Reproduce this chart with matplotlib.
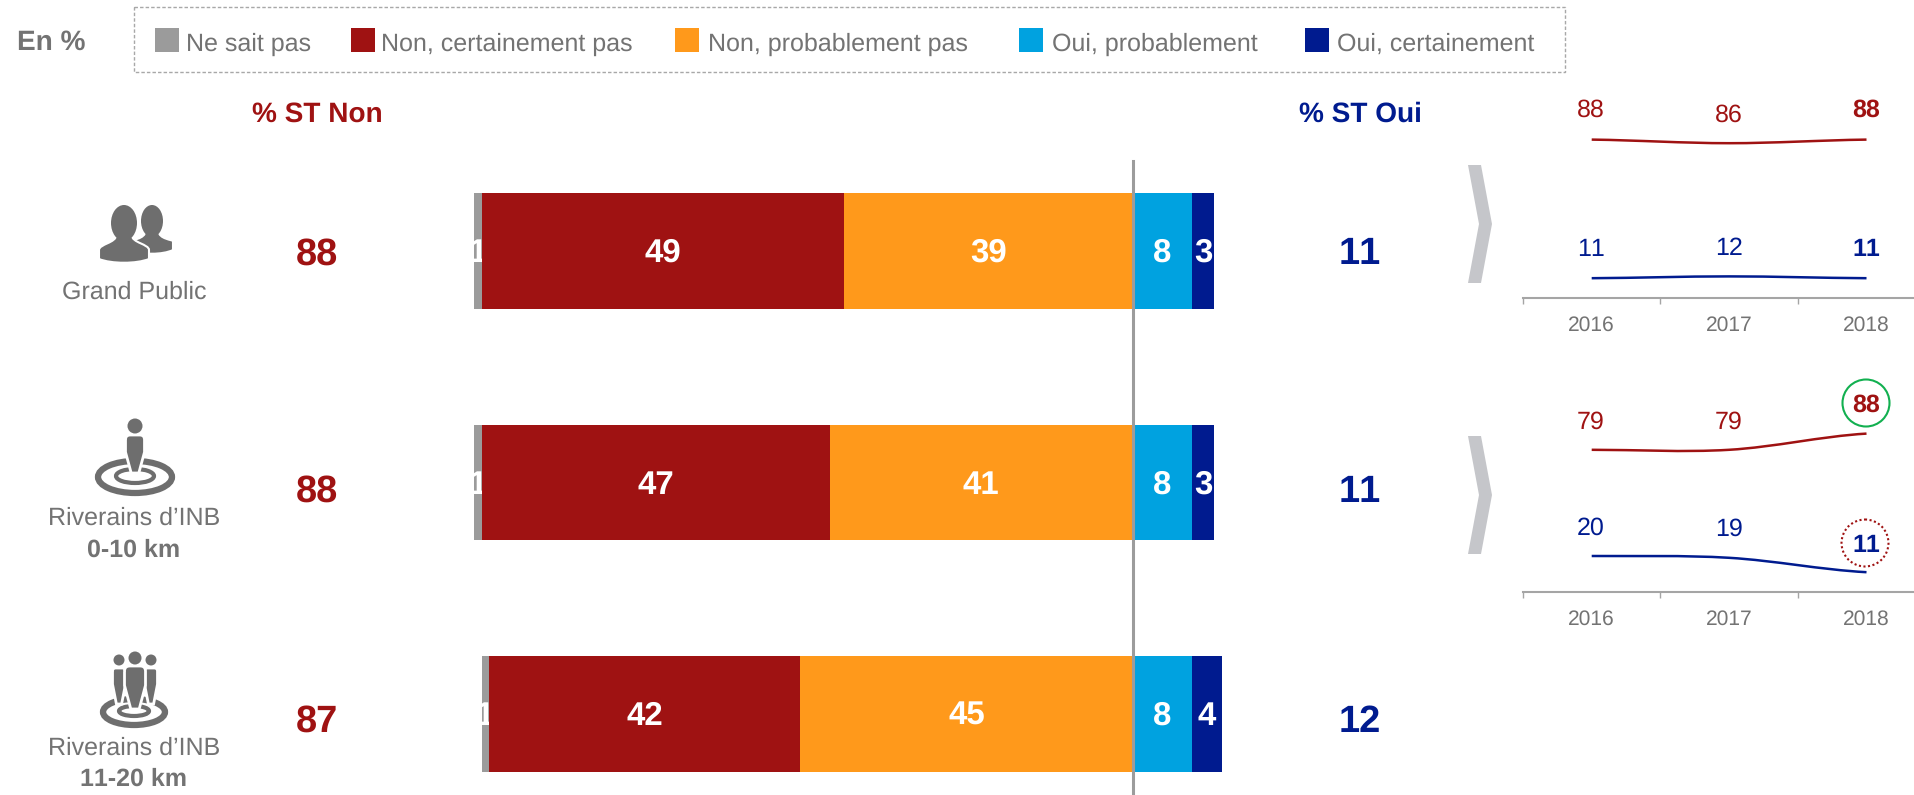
import matplotlib
matplotlib.use("Agg")
import matplotlib.pyplot as plt
from matplotlib.patches import Rectangle, Polygon, Ellipse, Circle, PathPatch
from matplotlib.path import Path

plt.rcParams['font.family'] = ['Liberation Sans', 'DejaVu Sans']
plt.rcParams['text.hinting'] = 'no_hinting'
plt.rcParams['text.hinting_factor'] = 1
plt.rcParams['text.kerning_factor'] = 6

# data
groups = ["Grand Public", "Riverains d\u2019INB", "Riverains d\u2019INB"]
groups_bold = ["", "0-10 km", "11-20 km"]
ne_sait_pas = [1, 1, 1]
non_certain = [49, 47, 42]
non_prob = [39, 41, 45]
oui_prob = [8, 8, 8]
oui_certain = [3, 3, 4]
st_non = [88, 88, 87]
st_oui = [11, 11, 12]

years = ["2016", "2017", "2018"]
trend1_non = [88, 86, 88]
trend1_oui = [11, 12, 11]
trend2_non = [79, 79, 88]
trend2_oui = [20, 19, 11]

legend_labels = ["Ne sait pas", "Non, certainement pas", "Non, probablement pas",
                 "Oui, probablement", "Oui, certainement"]

GREY = "#9b9b9b"
RED = "#9f1212"
ORANGE = "#ff991b"
LBLUE = "#00a2e0"
NAVY = "#001b8f"
TXT = "#737373"
ICON = "#6e6e6e"
W, H = 1915, 795

fig = plt.figure(figsize=(W / 100, H / 100), dpi=100, facecolor="white")

# main bars, zero is the divider line
zero_px = 1133
unit_px = 7.4
row_px = [251, 483, 714]
row_step = 231.5
ax = fig.add_axes([0, 0, 1, 1])
ax.set_xlim(-zero_px / unit_px, (W - zero_px) / unit_px)
ax.set_ylim((H - row_px[0]) / row_step, -row_px[0] / row_step)
ax.axis("off")

rows = list(range(len(groups)))
lefts = [-(a + b + c) for a, b, c in zip(ne_sait_pas, non_certain, non_prob)]
segments = [(ne_sait_pas, GREY), (non_certain, RED), (non_prob, ORANGE),
            (oui_prob, LBLUE), (oui_certain, NAVY)]
for k, (vals, col) in enumerate(segments):
    # grey goes under the red so its "1" gets cut by the red bar
    z = 1 if k == 0 else 2
    ax.barh(rows, vals, left=lefts, height=0.5, color=col, linewidth=0, zorder=z)
    for r, v, l in zip(rows, vals, lefts):
        ax.text(l + v / 2, r - 0.004, str(v), color="white", fontsize=24, fontweight="bold",
                ha="center", va="center_baseline", zorder=1.5 if k == 0 else 4)
    lefts = [l + v for l, v in zip(lefts, vals)]
ax.plot([0, 0], [(161 - row_px[0]) / row_step, (H - row_px[0]) / row_step],
        color="#9c9c9c", lw=2.2, zorder=3)

# overlay in pixels for text and icons
ov = fig.add_axes([0, 0, 1, 1], zorder=5)
ov.set_xlim(0, W)
ov.set_ylim(H, 0)
ov.axis("off")
ov.patch.set_alpha(0)


def txt(x, y, s, size, color=TXT, bold=False, ha="center"):
    # y is the middle of the capitals
    ov.text(x, y + size * 0.5, s, fontsize=size, color=color, ha=ha, va="baseline",
            fontweight="bold" if bold else "normal")


# legend
ov.add_patch(Rectangle((134, 7), 1431, 65, fill=False, ec="#a8a8a8", lw=1, ls=(0, (2.5, 1.5))))
txt(17, 40, "En %", 20, bold=True, ha="left")
swatch_x = [155, 351, 675, 1019, 1305]
label_x = [186, 381, 708, 1052, 1337]
for sx, lx, lab, (_, col) in zip(swatch_x, label_x, legend_labels, segments):
    ov.add_patch(Rectangle((sx, 28), 24, 24, color=col, lw=0))
    txt(lx, 42, lab, 18.3, ha="left")

# headers
txt(317, 112, "% ST Non", 20, RED, True)
txt(1360, 112, "% ST Oui", 20, NAVY, True)

# side numbers
st_y = [251, 488, 718]
for y, a, b in zip(st_y, st_non, st_oui):
    txt(317, y, str(a), 27, RED, True)
    txt(1360, y, str(b), 27, NAVY, True)

# group labels
label_y = [290, 516, 746]
bold_y = [0, 548, 777]
for g, b, y, by in zip(groups, groups_bold, label_y, bold_y):
    txt(134, y, g, 18.3, TXT)
    if b:
        txt(134, by, b, 18.2, TXT, True)


# icons
def bust(cx, top, rx, ry, half, bottom):
    neck = rx * 0.6
    sh = top + ry * 2
    verts = [(cx - half, bottom - 4), (cx - half, bottom - 13),
             (cx - half, sh + 3), (cx - neck, sh + 2), (cx - neck, sh - 6),
             (cx + neck, sh - 6),
             (cx + neck, sh + 2), (cx + half, sh + 3), (cx + half, bottom - 13),
             (cx + half, bottom - 4),
             (cx + half * 0.5, bottom + 1), (cx - half * 0.5, bottom + 1), (cx - half, bottom - 4)]
    codes = [Path.MOVETO, Path.LINETO, Path.CURVE4, Path.CURVE4, Path.CURVE4, Path.LINETO,
             Path.CURVE4, Path.CURVE4, Path.CURVE4, Path.LINETO, Path.CURVE4, Path.CURVE4, Path.CURVE4]
    ov.add_patch(PathPatch(Path(verts, codes), fc=ICON, ec="white", lw=1.5))
    ov.add_patch(Ellipse((cx, top + ry), rx * 2, ry * 2, fc=ICON, ec="none"))


def person(cx, head_y, head_r, half, top, bottom):
    r = half * 0.5
    verts = [(cx - half, top + r), (cx - half, top), (cx - half + r, top), (cx + half - r, top),
             (cx + half, top), (cx + half, top + r), (cx + half, top + (bottom - top) * 0.45),
             (cx + half * 0.4, bottom), (cx - half * 0.4, bottom),
             (cx - half, top + (bottom - top) * 0.45), (cx - half, top + r)]
    codes = [Path.MOVETO, Path.CURVE3, Path.CURVE3, Path.LINETO, Path.CURVE3, Path.CURVE3,
             Path.LINETO, Path.LINETO, Path.LINETO, Path.LINETO, Path.LINETO]
    ov.add_patch(PathPatch(Path(verts, codes), fc=ICON, ec="white", lw=2, zorder=3))
    ov.add_patch(Circle((cx, head_y), head_r, fc=ICON, ec="none", zorder=3))


def rings(cx, cy, rx, ry, rx2, ry2):
    ov.add_patch(Ellipse((cx, cy), rx * 2, ry * 2, fill=False, ec=ICON, lw=4.5))
    ov.add_patch(Ellipse((cx, cy - 1), rx2 * 2, ry2 * 2, fill=False, ec=ICON, lw=3))


bust(152, 205, 11, 16, 21, 254)
bust(124, 205, 13, 18, 25, 263)

rings(135, 477, 37, 16, 19, 7)
person(135, 426, 7.5, 9.5, 435, 473)

rings(134, 712, 31, 13, 15, 5)
person(119, 660, 5.5, 6.5, 668, 704)
person(151, 660, 5.5, 6.5, 668, 704)
person(135, 658, 6.5, 10.5, 666, 709)

# chevrons
for top, mid, bot in [(165, 224, 283), (436, 495, 554)]:
    ov.add_patch(Polygon([(1468, top), (1481, top), (1492, mid), (1481, bot), (1468, bot), (1479, mid)],
                         fc="#c5c6ca", ec="none"))


# trend charts
def smooth(vals):
    # smooth line through the values, like the office charts
    verts = [(0, vals[0])]
    codes = [Path.MOVETO]
    n = len(vals)
    for i in range(n - 1):
        p0 = vals[max(i - 1, 0)]
        p1 = vals[i]
        p2 = vals[i + 1]
        p3 = vals[min(i + 2, n - 1)]
        verts += [(i + 1 / 3, p1 + (p2 - p0) / 6), (i + 2 / 3, p2 - (p3 - p1) / 6), (i + 1, p2)]
        codes += [Path.CURVE4] * 3
    return Path(verts, codes)


def trend(base_px, non, oui):
    a = fig.add_axes([1523 / W, 1 - base_px / H, (W - 1523) / W, 180 / H], zorder=4)
    a.patch.set_alpha(0)
    a.set_xlim(-0.5, (W - 1591) / 137.7)
    a.set_ylim(0, 100)
    for s in ["top", "left", "right"]:
        a.spines[s].set_visible(False)
    a.spines["bottom"].set_color("#a5a5a5")
    a.spines["bottom"].set_linewidth(1.5)
    a.set_yticks([])
    a.set_xticks([0, 1, 2])
    a.set_xticklabels(years, fontsize=15, color=TXT)
    a.set_xticks([-0.5, 0.5, 1.5], minor=True)
    a.tick_params(axis="x", which="major", length=0, pad=13)
    a.tick_params(axis="x", which="minor", length=4, width=1, color="#a5a5a5")
    a.add_patch(PathPatch(smooth(non), fill=False, ec=RED, lw=1.8, capstyle="butt"))
    a.add_patch(PathPatch(smooth(oui), fill=False, ec=NAVY, lw=1.8, capstyle="butt"))
    return a


trend(298, trend1_non, trend1_oui)
trend(592, trend2_non, trend2_oui)

val_x = [1591, 1729, 1866]
t1_non_y = [108, 113, 108]
t1_oui_y = [247, 246, 247]
t2_non_y = [420, 420, 403]
t2_oui_y = [526, 527, 543]
for vals, ys, col in [(trend1_non, t1_non_y, RED), (trend1_oui, t1_oui_y, NAVY),
                      (trend2_non, t2_non_y, RED), (trend2_oui, t2_oui_y, NAVY)]:
    for i, (x, v, y) in enumerate(zip(val_x, vals, ys)):
        txt(x, y, str(v), 18, col, i == 2)

ov.add_patch(Circle((1866, 403), 23.5, fill=False, ec="#12b050", lw=1.5))
ov.add_patch(Circle((1865, 543), 23.5, fill=False, ec=RED, lw=1.5, ls=(0, (1, 1.2))))

fig.savefig("out.png", dpi=100)
